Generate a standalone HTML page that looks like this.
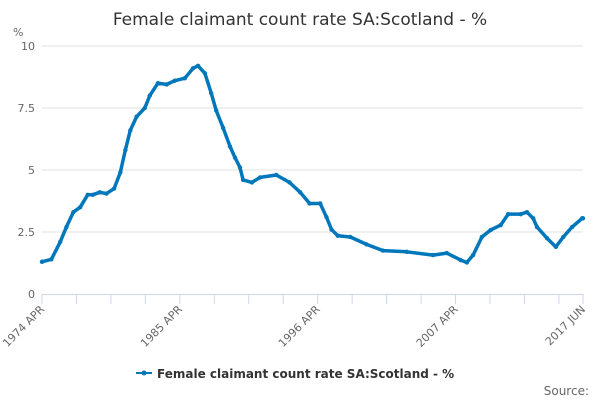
<!DOCTYPE html>
<html><head><meta charset="utf-8"><style>
body{margin:0;background:#fff;font-family:"Liberation Sans","DejaVu Sans",sans-serif}
svg text{font-family:"DejaVu Sans","Liberation Sans",sans-serif}
</style></head><body>
<svg id="chart" width="600" height="400" viewBox="0 0 600 400">
<text x="300" y="25" text-anchor="middle" font-size="17" fill="#333">Female claimant count rate SA:Scotland - %</text>
<text x="13" y="36" font-size="11" fill="#666">%</text>
<g id="grid"></g><g id="axes"></g><g id="series"></g>
<g>
<line x1="136" y1="373" x2="152" y2="373" stroke="#0077bb" stroke-width="2"/>
<circle cx="144" cy="373" r="2.5" fill="#0077bb"/>
<text x="157" y="378" font-size="12" font-weight="bold" fill="#333">Female claimant count rate SA:Scotland - %</text>
</g>
<text x="589" y="395" text-anchor="end" font-size="12" fill="#666">Source:</text>
</svg>
<script>
const dates=[1974.25,1975.0,1975.7,1976.2,1976.75,1977.3,1977.9,1978.3,1978.85,1979.4,1980.0,1980.5,1980.9,1981.3,1981.8,1982.45,1982.85,1983.5,1984.2,1984.85,1985.65,1986.3,1986.7,1987.25,1987.75,1988.15,1988.7,1989.25,1989.65,1990.05,1990.3,1991.0,1991.65,1992.95,1994.0,1994.85,1995.6,1996.45,1996.95,1997.35,1997.85,1998.85,2000.15,2001.45,2003.35,2005.45,2006.55,2007.65,2008.15,2008.65,2009.35,2010.05,2010.85,2011.45,2012.45,2012.95,2013.45,2013.75,2014.55,2015.25,2015.85,2016.55,2017.35,2017.42];
const values=[1.3,1.4,2.1,2.7,3.3,3.5,4.0,4.0,4.1,4.05,4.25,4.9,5.8,6.6,7.15,7.5,8.0,8.5,8.45,8.6,8.7,9.1,9.2,8.9,8.1,7.4,6.7,5.95,5.5,5.1,4.6,4.5,4.7,4.8,4.5,4.1,3.65,3.65,3.1,2.6,2.35,2.3,2.0,1.75,1.7,1.57,1.65,1.37,1.27,1.57,2.3,2.58,2.78,3.22,3.22,3.3,3.05,2.7,2.25,1.9,2.3,2.7,3.05,3.05];
const yTicks=[0,2.5,5,7.5,10];
const yTickLabels=["0","2.5","5","7.5","10"];
const xLabelDates=[1974.25,1985.25,1996.25,2007.25,2017.42];
const xLabels=["1974 APR","1985 APR","1996 APR","2007 APR","2017 JUN"];
const NS="http://www.w3.org/2000/svg";
const X0=42,X1=583,Y0=294,Y1=46,D0=1974.25,D1=2017.42;
const xs=d=>X0+(d-D0)/(D1-D0)*(X1-X0);
const ys=v=>Y0-v/10*(Y0-Y1);
function mk(tag,attrs,parent){const e=document.createElementNS(NS,tag);for(const k in attrs)e.setAttribute(k,attrs[k]);parent.appendChild(e);return e;}
const grid=document.getElementById('grid'),axes=document.getElementById('axes'),ser=document.getElementById('series');
yTicks.forEach((t,i)=>{
 if(t>0){const l=mk('line',{x1:X0,x2:X1,y1:ys(t),y2:ys(t),stroke:'#e0e0e0','stroke-width':1},grid);
 
 }
 const tx=mk('text',{x:X0-7,y:ys(t)+4,'text-anchor':'end','font-size':11,fill:'#666'},axes);
 tx.textContent=yTickLabels[i];
 
 
});
const ax=mk('line',{x1:X0,x2:X1,y1:Y0+0.5,y2:Y0+0.5,stroke:'#ccd6eb','stroke-width':1},axes);


for(let d=D0;d<=D1+0.01;d+=2.75){
 const t=mk('line',{x1:xs(d),x2:xs(d),y1:Y0,y2:Y0+10,stroke:'#ccd6eb'},axes);
 
 
}
const te=mk('line',{x1:X1,x2:X1,y1:Y0,y2:Y0+10,stroke:'#ccd6eb'},axes);


xLabelDates.forEach((d,i)=>{
 const x=xs(d)+3,y=Y0+16;
 const tx=mk('text',{x:x,y:y,'text-anchor':'end','font-size':11,fill:'#666',transform:`rotate(-45 ${x} ${y})`},axes);
 tx.textContent=xLabels[i];
 
 
});
const pts=dates.map((d,i)=>xs(d).toFixed(1)+','+ys(values[i]).toFixed(1)).join(' ');
const pl=mk('polyline',{points:pts,fill:'none',stroke:'#0077bb','stroke-width':3.5,'stroke-linejoin':'round'},ser);


dates.forEach((d,i)=>{
 const c=mk('circle',{cx:xs(d),cy:ys(values[i]),r:2.2,fill:'#0077bb'},ser);
 
 
});
</script>
</body></html>
